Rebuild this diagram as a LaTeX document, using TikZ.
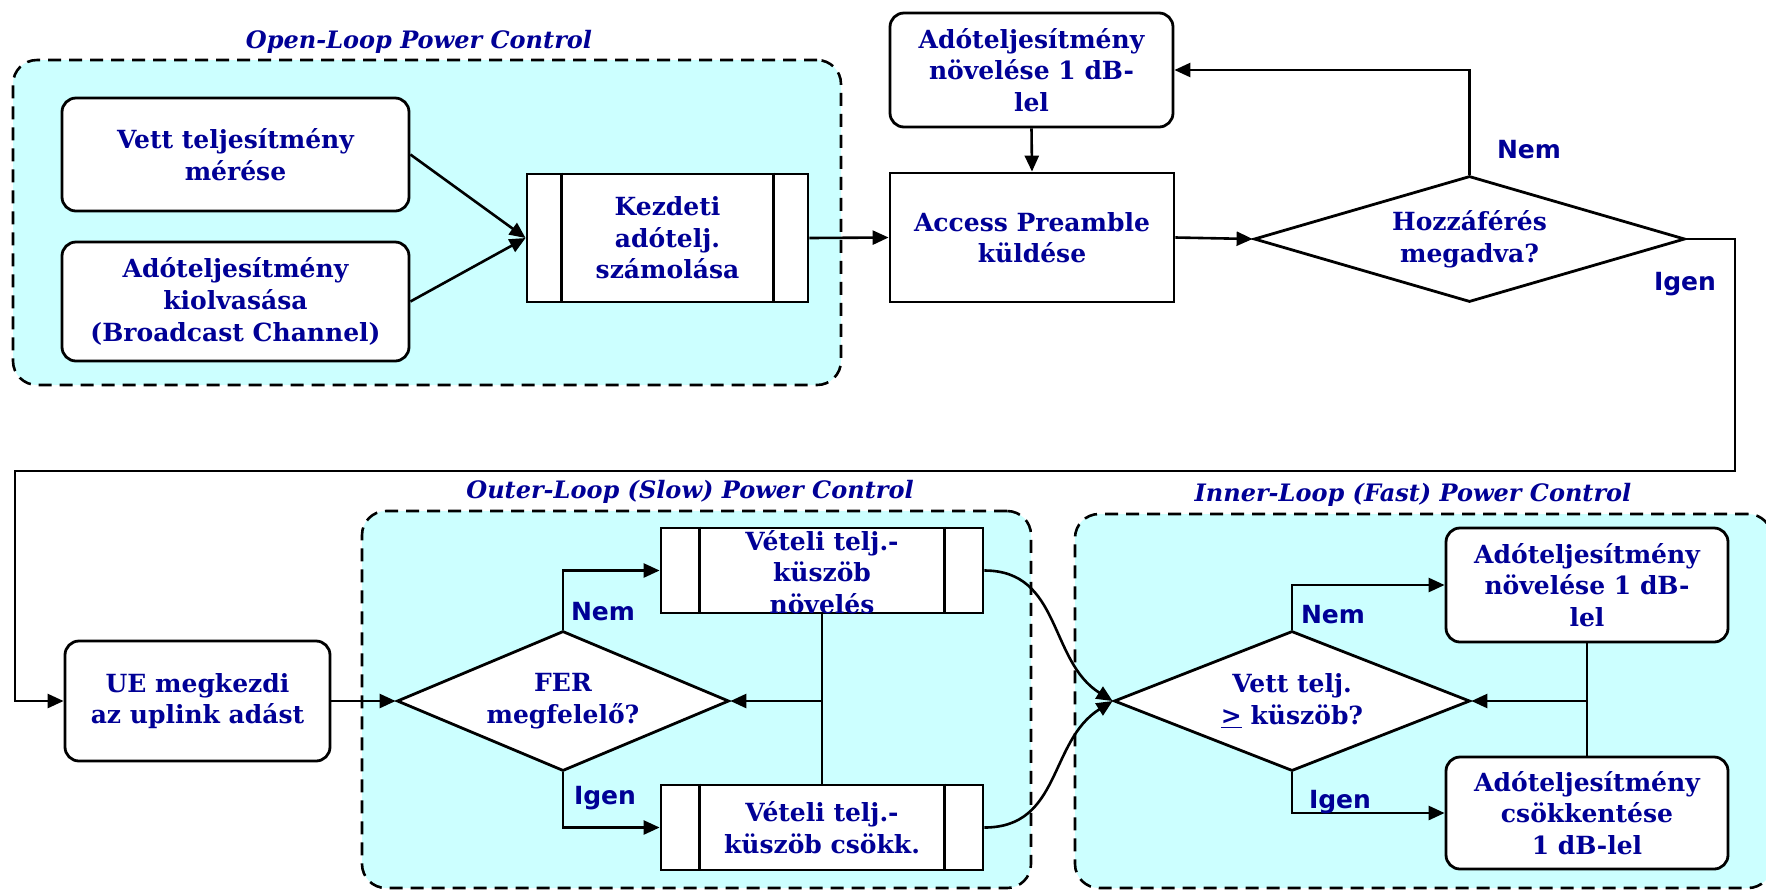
\documentclass[tikz,border=0pt]{standalone}
\usepackage{fontspec}
\setmainfont{DejaVu Serif}
\newfontfamily\answerfont{DejaVu Sans}
\usetikzlibrary{shapes.geometric,arrows.meta}
\definecolor{txtblue}{RGB}{0,0,150}
\definecolor{loopfill}{RGB}{204,255,255}

\begin{document}
\begin{tikzpicture}[x=0.5pt,y=-0.5pt,
  every node/.style={text=txtblue, align=center,
    font=\bfseries\fontsize{12.5}{15.8}\selectfont},
  box/.style={draw=black, fill=white, line width=1.4pt, inner sep=0pt},
  rbox/.style={box, rounded corners=7pt},
  dec/.style={box, diamond},
  conn/.style={line width=1.3pt, -{Triangle[length=8pt,width=7pt]}},
  plain/.style={line width=1.3pt},
  loopbox/.style={draw=black, fill=loopfill, line width=1.3pt,
    dash pattern=on 6.5pt off 4pt, rounded corners=12pt, inner sep=0pt},
  looptitle/.style={font=\bfseries\itshape\fontsize{12}{15}\selectfont},
  answer/.style={font=\answerfont\bfseries\fontsize{12.5}{15}\selectfont},
]
\useasboundingbox (0,0) rectangle (1766,890);
\clip (0,0) rectangle (1766,890);

% loop containers
\node[loopbox, minimum width=414pt, minimum height=162.5pt] (openloop) at (427,222.5) {};
\node[loopbox, minimum width=334.5pt, minimum height=188.5pt] (outerloop) at (696.5,699.5) {};
\node[loopbox, minimum width=348.5pt, minimum height=187pt] (innerloop) at (1423.5,701) {};

\node[looptitle] (tOpen) at (419,42) {Open-Loop Power Control};
\node[looptitle] (tOuter) at (690,492) {Outer-Loop (Slow) Power Control};
\node[looptitle] (tInner) at (1413,495) {Inner-Loop (Fast) Power Control};

% open loop and random access
\node[rbox, minimum width=173.5pt, minimum height=56.5pt] (meas) at (235.5,154.5) {Vett teljesítmény\\mérése};
\node[rbox, minimum width=173.5pt, minimum height=59.5pt] (bcch) at (235.5,301.5) {Adóteljesítmény\\kiolvasása\\(Broadcast Channel)};
\node[box, minimum width=140.5pt, minimum height=64pt] (init) at (667.5,238) {Kezdeti\\adótelj.\\számolása};
\node[rbox, minimum width=141.5pt, minimum height=57pt] (raise) at (1031.5,70) {Adóteljesítmény\\növelése 1 dB-\\lel};
\node[box, minimum width=142pt, minimum height=64.5pt] (pre) at (1032,237.5) {Access Preamble\\küldése};
\node[dec, aspect=3.42, minimum width=215.5pt, minimum height=63pt] (grant) at (1469.5,239) {Hozzáférés\\megadva?};

% outer loop
\node[rbox, minimum width=132.5pt, minimum height=60pt] (ue) at (197.5,701) {UE megkezdi\\az uplink adást};
\node[dec, aspect=2.37, minimum width=166pt, minimum height=70pt] (fer) at (563,701) {FER\\megfelelő?};
\node[box, minimum width=161pt, minimum height=42.5pt] (thrup) at (822,570.5) {};
\node (thruptxt) at (822,572) {Vételi telj.-\\küszöb\\növelés};
\node[box, minimum width=161pt, minimum height=42.5pt] (thrdn) at (822,827.5) {Vételi telj.-\\küszöb csökk.};

% inner loop
\node[dec, aspect=2.54, minimum width=178pt, minimum height=70pt] (cmp) at (1292,701) {Vett telj.\\\underline{>} küszöb?};
\node[rbox, minimum width=141pt, minimum height=57pt] (pup) at (1587,585) {Adóteljesítmény\\növelése 1 dB-\\lel};
\node[rbox, minimum width=141pt, minimum height=56pt] (pdn) at (1587,813) {Adóteljesítmény\\csökkentése\\1 dB-lel};

% side bars of the predefined-process boxes
\foreach \n/\d in {init/18pt, thrup/20pt, thrdn/20pt}{
  \draw[line width=1.4pt] ([xshift=\d]\n.north west) -- ([xshift=\d]\n.south west);
  \draw[line width=1.4pt] ([xshift=-\d]\n.north east) -- ([xshift=-\d]\n.south east);
}

% connectors: open loop and access
\draw[conn] (meas.east) -- (init.west);
\draw[conn] (bcch.east) -- (init.west);
\draw[conn] (init.east) -- (pre.west);
\draw[conn] (raise.south) -- (pre.north);
\draw[conn] (pre.east) -- (grant.west);
\draw[conn] (grant.north) |- (raise.east);
\node[answer] (gNem) at (1529,150) {Nem};

\coordinate (r1) at (1735,239);
\coordinate (r2) at (1735,471);
\coordinate (r3) at (15,471);
\draw[conn] (grant.east) -- (r1) -- (r2) -- (r3) |- (ue.west);
\node[answer] (gIgen) at (1685,284) {Igen};

% connectors: outer loop
\draw[conn] (ue.east) -- (fer.west);
\draw[conn] (fer.north) |- (thrup.west);
\draw[conn] (fer.south) |- (thrdn.west);
\draw[plain] (thrup.south) -- (thrdn.north);
\coordinate (fj) at (822,701);
\draw[conn] (fj) -- (fer.east);
\node[answer] (fNem) at (603,612) {Nem};
\node[answer] (fIgen) at (605,798) {Igen};

\draw[conn] (thrup.east) .. controls +(77,0) and +(-64,-40) .. (cmp.west);
\draw[conn] (thrdn.east) .. controls +(77,0) and +(-64,40) .. (cmp.west);

% connectors: inner loop
\draw[conn] (cmp.north) |- (pup.west);
\draw[conn] (cmp.south) |- (pdn.west);
\draw[plain] (pup.south) -- (pdn.north);
\coordinate (ij) at (1587,701);
\draw[conn] (ij) -- (cmp.east);
\node[answer] (cNem) at (1333,615) {Nem};
\node[answer] (cIgen) at (1340,802) {Igen};
\end{tikzpicture}
\end{document}
